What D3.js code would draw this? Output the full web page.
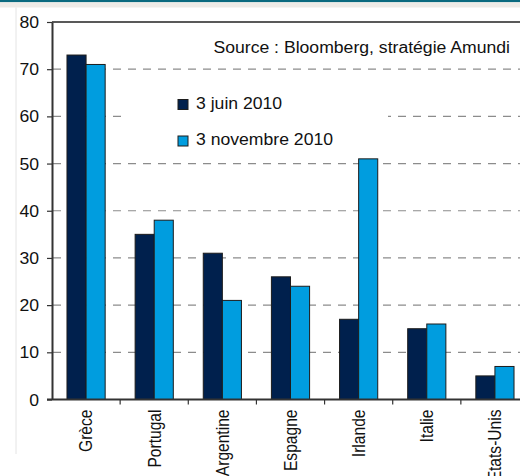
<!DOCTYPE html>
<html>
<head>
<meta charset="utf-8">
<script src="https://cdn.jsdelivr.net/npm/d3@7"></script>
<style>
  html, body { margin: 0; padding: 0; background: #fff; }
  svg { display: block; font-family: "Liberation Sans", Arial, sans-serif; }
</style>
</head>
<body>
<svg id="chart" width="520" height="476"></svg>
<script>
// Spreads (bp) by country at two dates
const categories = ["Grèce", "Portugal", "Argentine", "Espagne", "Irlande", "Italie", "Etats-Unis"];
const juin2010 = [73, 35, 31, 26, 17, 15, 5];
const novembre2010 = [71, 38, 21, 24, 51, 16, 7];
const seriesNames = ["3 juin 2010", "3 novembre 2010"];
const seriesColors = ["#00204d", "#009ddf"];
const yTicks = [0, 10, 20, 30, 40, 50, 60, 70, 80];
const sourceText = "Source : Bloomberg, stratégie Amundi";

const FS = 15.6;       // font size
const SX = 1.13;       // horizontal text stretch

const svg = d3.select("#chart");

// Header bands
svg.append("rect").attr("x", 0).attr("y", 0).attr("width", 520).attr("height", 2.3).attr("fill", "#0b6a7f");
svg.append("rect").attr("x", 0).attr("y", 2.3).attr("width", 520).attr("height", 5.2).attr("fill", "#eeebe7");
// Faint left border
svg.append("line").attr("x1", 16).attr("x2", 16).attr("y1", 7.5).attr("y2", 454)
  .attr("stroke", "#e4e4e4").attr("stroke-width", 1);

const x = d3.scaleBand().domain(categories).range([52, 529]).paddingInner(0).paddingOuter(0);
const x1 = d3.scaleBand().domain(seriesNames).range([0, x.bandwidth()]).paddingInner(0).paddingOuter(0.785);
const y = d3.scaleLinear().domain([0, 80]).range([399.5, 22]);

// Dashed gridlines
svg.append("g").selectAll("line")
  .data(yTicks.filter(t => t > 0 && t < 80))
  .join("line")
  .attr("x1", 53).attr("x2", 520)
  .attr("y1", d => y(d)).attr("y2", d => y(d))
  .attr("stroke", "#8c8c8c").attr("stroke-width", 1.2)
  .attr("stroke-dasharray", "8,7");

// Legend backdrop
svg.append("rect").attr("x", 122).attr("y", 88).attr("width", 266).attr("height", 66).attr("fill", "#fff");

// Bars
const rows = categories.map((c, i) => ({ c, vals: [juin2010[i], novembre2010[i]] }));
const groups = svg.append("g").selectAll("g").data(rows).join("g")
  .attr("transform", d => `translate(${x(d.c)},0)`);
groups.selectAll("rect")
  .data(d => d.vals.map((v, k) => ({ v, k })))
  .join("rect")
  .attr("x", d => x1(seriesNames[d.k]))
  .attr("width", x1.bandwidth())
  .attr("y", d => y(d.v))
  .attr("height", d => y(0) - y(d.v))
  .attr("fill", d => seriesColors[d.k])
  .attr("stroke", "#1c1c1c").attr("stroke-width", 1);

// Top frame line
svg.append("line").attr("x1", 52).attr("x2", 520).attr("y1", y(80)).attr("y2", y(80))
  .attr("stroke", "#222").attr("stroke-width", 1.5);

// Y axis
const yAxis = svg.append("g").attr("transform", "translate(52,0)")
  .call(d3.axisLeft(y).tickValues(yTicks).tickSize(5).tickSizeOuter(0).tickFormat(d3.format("d")));
yAxis.select(".domain").attr("stroke", "#333").attr("stroke-width", 2);
yAxis.selectAll(".tick line").attr("stroke", "#333").attr("stroke-width", 1.2);
yAxis.selectAll(".tick text")
  .attr("x", null).attr("dy", "0.36em")
  .attr("transform", `translate(-13,0) scale(${SX},1)`)
  .attr("font-size", FS).attr("fill", "#111")
  .attr("font-family", "Liberation Sans, Arial, sans-serif");

// X axis with rotated category labels
const xAxis = svg.append("g").attr("transform", `translate(0,${y(0)})`)
  .call(d3.axisBottom(x).tickSize(0).tickSizeOuter(0));
xAxis.select(".domain").remove();
svg.append("line").attr("x1", 47).attr("x2", 520).attr("y1", y(0)).attr("y2", y(0))
  .attr("stroke", "#333").attr("stroke-width", 2);
xAxis.selectAll(".tick text")
  .attr("x", null).attr("y", null).attr("dy", "0.36em")
  .attr("text-anchor", "end")
  .attr("transform", `translate(0,10) scale(${SX},1) rotate(-90)`)
  .attr("font-size", FS).attr("fill", "#111")
  .attr("font-family", "Liberation Sans, Arial, sans-serif");

// Category boundary ticks
svg.append("g").selectAll("line")
  .data(categories.slice(1))
  .join("line")
  .attr("x1", d => x(d)).attr("x2", d => x(d))
  .attr("y1", y(0)).attr("y2", y(0) + 5)
  .attr("stroke", "#333").attr("stroke-width", 1.2);

// Source note
svg.append("text")
  .attr("transform", `translate(510,53) scale(${SX},1)`)
  .attr("text-anchor", "end")
  .attr("font-size", FS).attr("fill", "#111")
  .text(sourceText);

// Legend
const legend = svg.append("g").selectAll("g").data(seriesNames).join("g")
  .attr("transform", (d, i) => `translate(178,${99.5 + i * 36.5})`);
legend.append("rect")
  .attr("width", 10).attr("height", 10)
  .attr("fill", (d, i) => seriesColors[i])
  .attr("stroke", "#1c1c1c").attr("stroke-width", 1);
legend.append("text")
  .attr("transform", `translate(18,9) scale(${SX},1)`)
  .attr("font-size", FS).attr("fill", "#111")
  .text(d => d);
</script>
</body>
</html>
